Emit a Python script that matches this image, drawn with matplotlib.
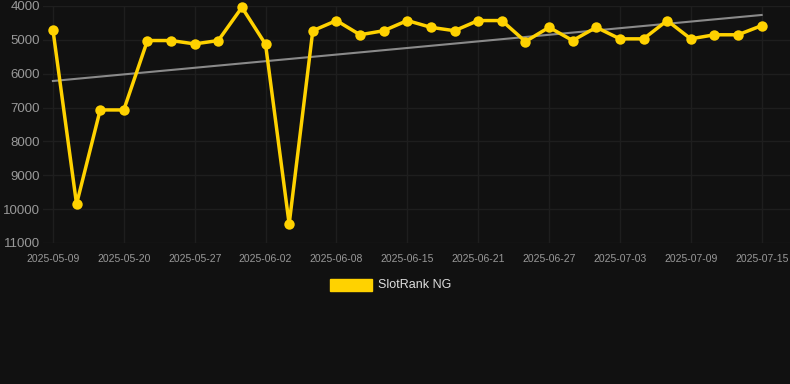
import matplotlib
matplotlib.use('Agg')
import matplotlib.pyplot as plt
import matplotlib.patches as mpatches
import numpy as np

plt.rcParams['font.family'] = ['Liberation Sans', 'DejaVu Sans']

# ------------- data ------------- #
dates = ['2025-05-09', '2025-05-20', '2025-05-27', '2025-06-02', '2025-06-08', '2025-06-15',
         '2025-06-21', '2025-06-27', '2025-07-03', '2025-07-09', '2025-07-15']
rank = [4700, 9850, 7070, 7070, 5020, 5020, 5120, 5020, 4040, 5130,
        10440, 4730, 4430, 4850, 4730, 4430, 4630, 4730, 4430, 4430,
        5050, 4630, 5020, 4630, 4970, 4970, 4430, 4970, 4850, 4850, 4580]
trend_ends = [6215, 4265]  # trend line at first and last point
ytick_vals = [4000, 5000, 6000, 7000, 8000, 9000, 10000, 11000]

# ------------- plot ------------- #
bg = '#111111'
fig = plt.figure(figsize=(7.9, 3.84), dpi=100, facecolor=bg)
ax = fig.add_axes([43 / 790, 1 - 243 / 384, (790 - 43) / 790, (243 - 6) / 384])
ax.set_facecolor(bg)

idx = np.arange(len(rank))
ax.plot([idx[0], idx[-1]], trend_ends, color='#8a8a8a', linewidth=1.5, zorder=2)
ax.plot(idx, rank, color='#FFD200', linewidth=2.5, marker='o', markersize=7.5,
        markeredgewidth=0, zorder=3, clip_on=False)

ax.set_ylim(11000, 4000)
ax.set_xlim(-0.42, 31.2)
ax.set_yticks(ytick_vals)
ax.set_yticklabels([str(v) for v in ytick_vals])
ax.set_xticks(idx[::3])
ax.set_xticklabels(dates)

ax.grid(color='#1e1e1e', linewidth=1)
ax.set_axisbelow(True)
for s in ax.spines.values():
    s.set_visible(False)
ax.tick_params(axis='y', length=0, pad=2, labelsize=9.5, labelcolor='#999999')
ax.tick_params(axis='x', length=0, pad=8, labelsize=7.5, labelcolor='#999999')

# legend
fig.patches.append(mpatches.Rectangle((330 / 790, 1 - 291 / 384), 42 / 790, 12 / 384,
                                      transform=fig.transFigure, color='#FFD200'))
fig.text(378 / 790, 1 - 285 / 384, 'SlotRank NG', color='#dddddd', fontsize=9,
         va='center', ha='left')

plt.savefig('out.png', dpi=100, facecolor=bg)
